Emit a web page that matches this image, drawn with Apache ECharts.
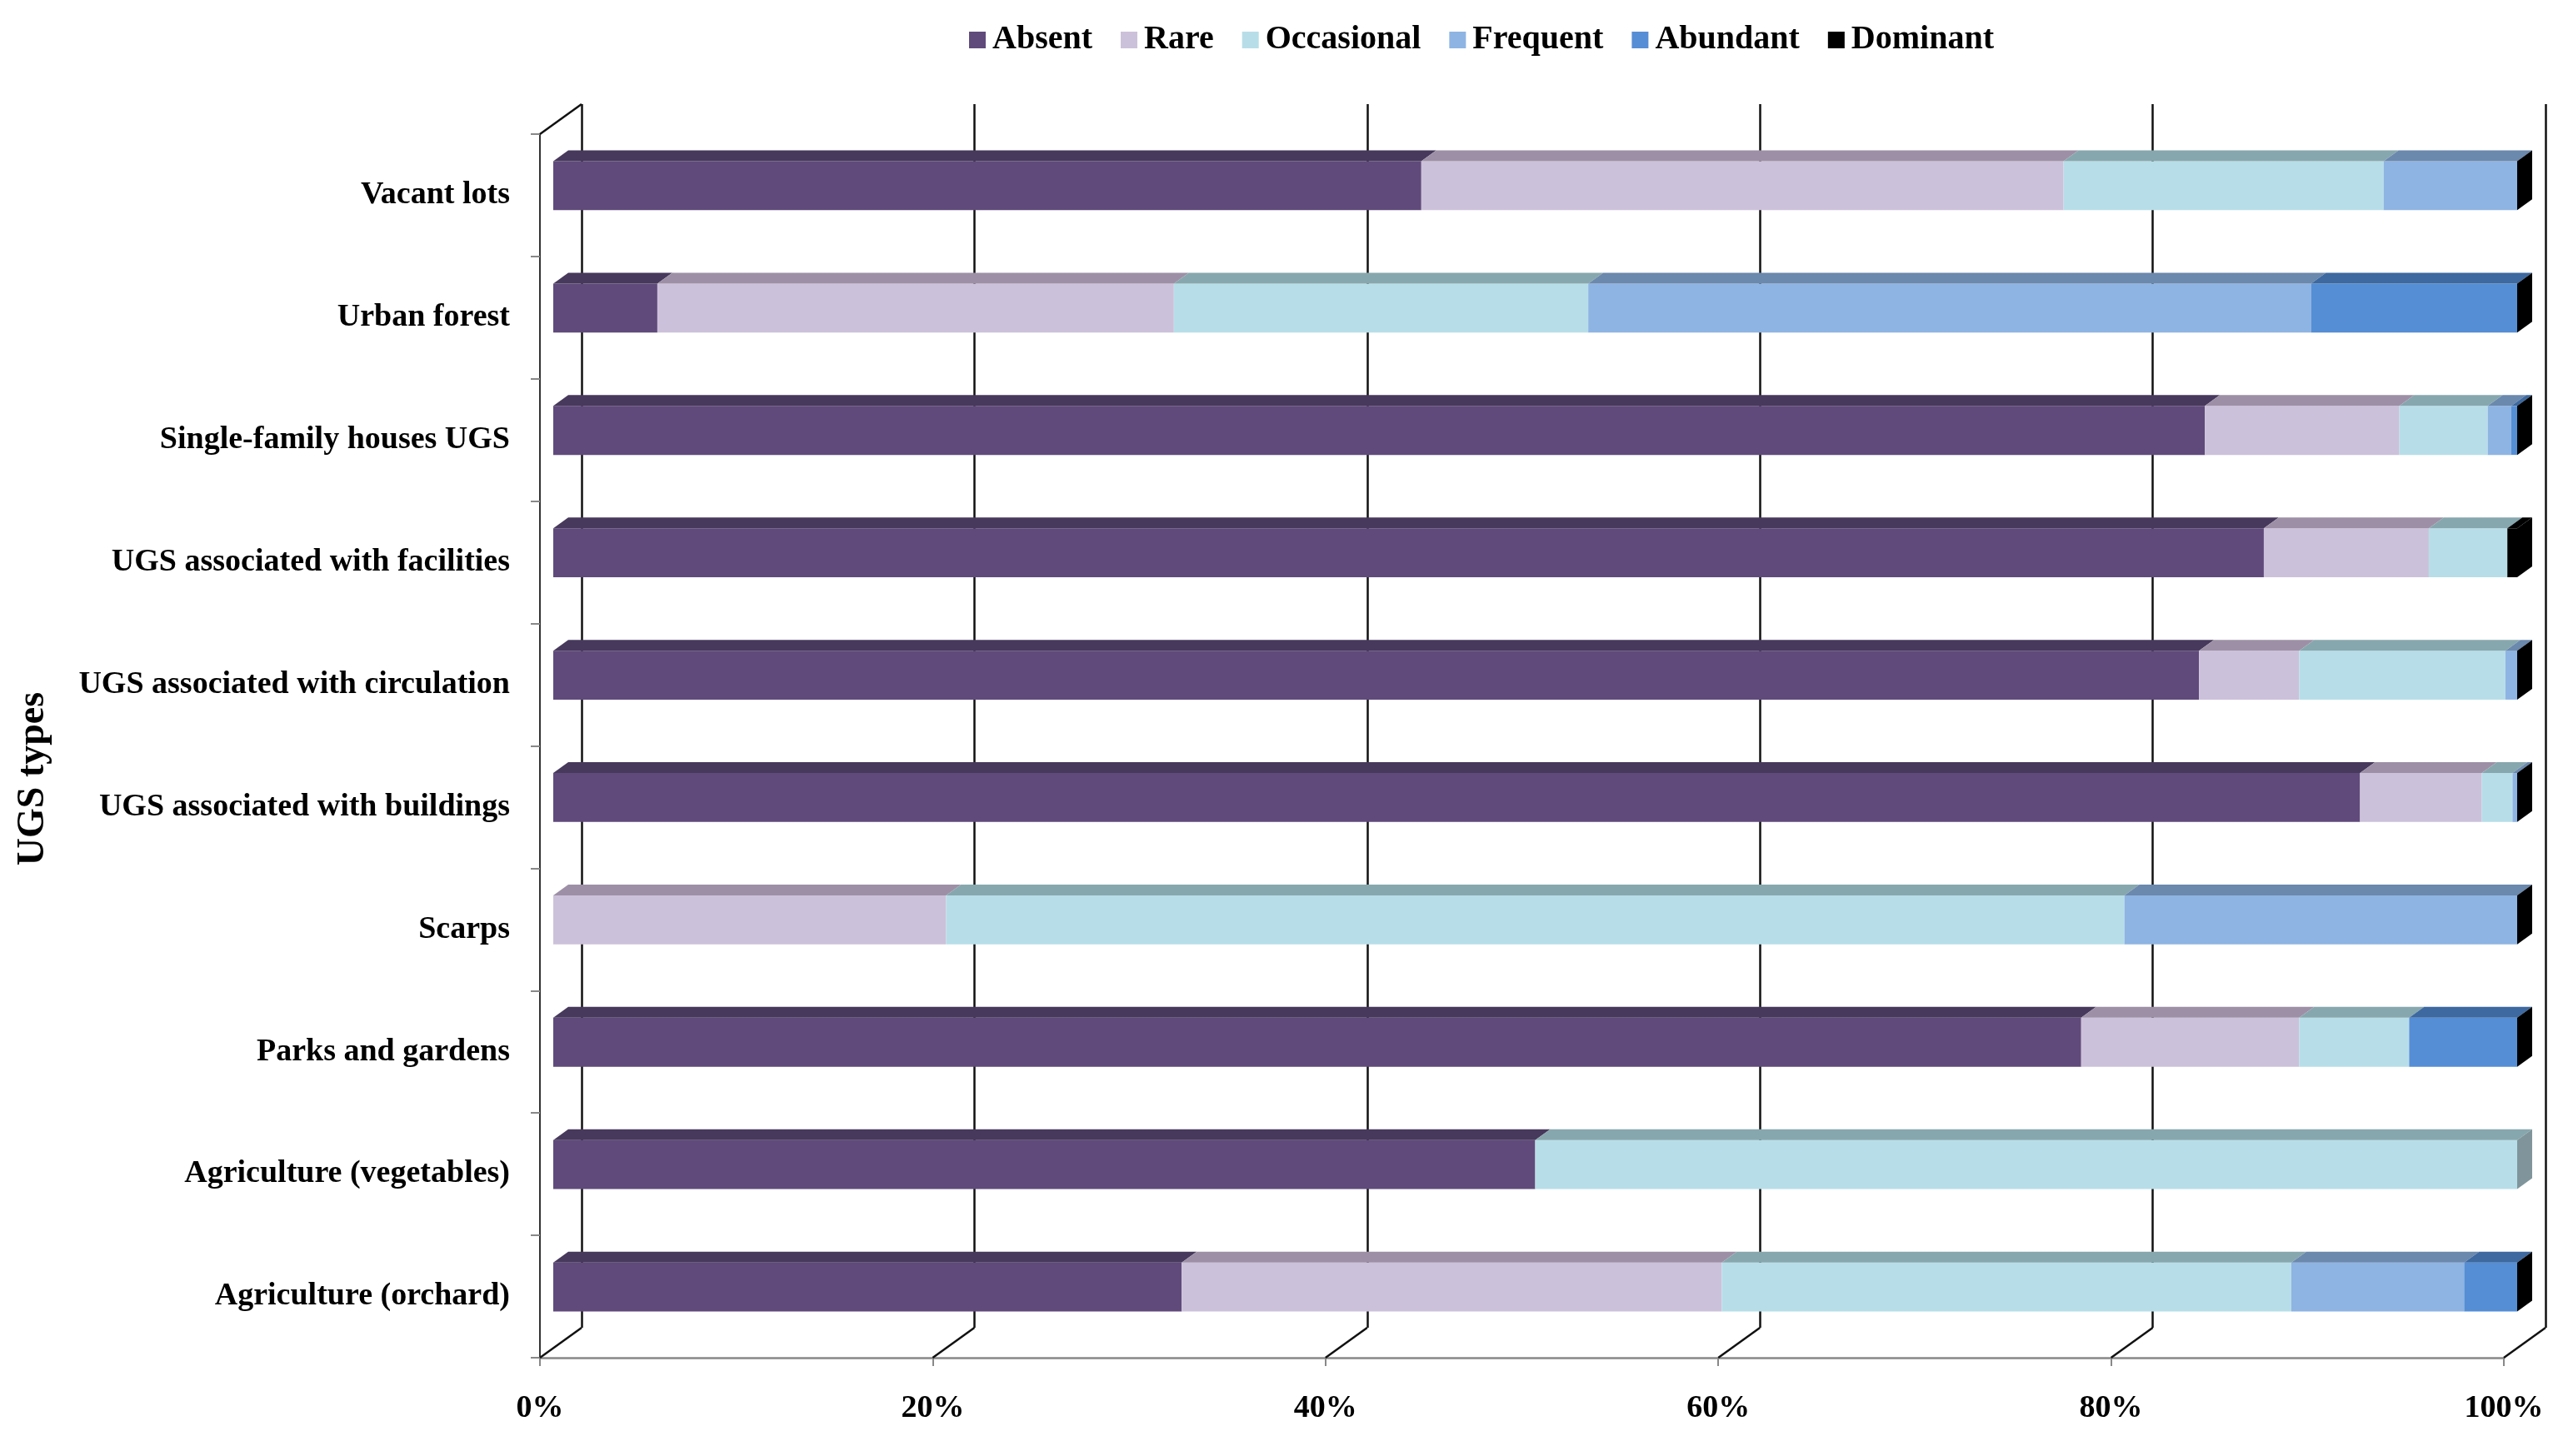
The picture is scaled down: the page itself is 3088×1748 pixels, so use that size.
<!DOCTYPE html>
<html>
<head>
<meta charset="utf-8">
<title>UGS types</title>
<script src="https://cdn.jsdelivr.net/npm/echarts@6.0.0/dist/echarts.min.js"></script>
<style>
    html, body { margin: 0; padding: 0; background: #fff; }
    #chart { width: 3088px; height: 1748px; }
</style>
</head>
<body>
<div id="chart"></div>
<script>
// ======================
// DATA
// ======================

const categories = [
    'Vacant lots',
    'Urban forest',
    'Single-family houses UGS',
    'UGS associated with facilities',
    'UGS associated with circulation',
    'UGS associated with buildings',
    'Scarps',
    'Parks and gardens',
    'Agriculture (vegetables)',
    'Agriculture (orchard)',
];

const levels = ['Absent', 'Rare', 'Occasional', 'Frequent', 'Abundant', 'Dominant'];

// % of each UGS type, null = level not present in the row
const absent     = [44.2, 5.3, 84.1, 87.1, 83.8, 92.0, 0, 77.8, 50.0, 32.0];
const rare       = [32.7, 26.3, 9.9, 8.4, 5.1, 6.2, 20.0, 11.1, 0, 27.5];
const occasional = [16.3, 21.1, 4.5, 4.0, 10.5, 1.56, 60.0, 5.6, 50.0, 29.0];
const frequent   = [6.8, 36.8, 1.2, 0, 0.6, 0.24, 20.0, 0, null, 8.8];
const abundant   = [0, 10.5, 0.3, 0, 0, 0, 0, 5.5, null, 2.7];
const dominant   = [0, 0, 0, 0.5, 0, 0, 0, 0, null, 0];

const tickValues = [0, 20, 40, 60, 80, 100];

// ======================
// STYLE
// ======================

const FONT = '"Liberation Serif", "Times New Roman", serif';
const frontColors = ['#604a7b', '#ccc1da', '#b7dee8', '#8eb4e3', '#558ed5', '#000000'];
const topColors   = ['#47395c', '#9d90a6', '#87a7ae', '#6b88ad', '#3d69a0', '#000000'];
const sideColors  = ['#3e3150', '#8a7e92', '#7f959b', '#5f7899', '#345c8c', '#000000'];

// pseudo 3D: floor depth and bar depth offsets (px)
const DEPTH_X = 50, DEPTH_Y = 36;
const BAR_OFF_X = 16, BAR_OFF_Y = 11.5;
const BAR_DX = 18, BAR_DY = 13;

const GRID_FRONT = { left: 648, right: 83, top: 161, bottom: 118 };
const GRID_BACK = {
    left: GRID_FRONT.left + DEPTH_X,
    right: GRID_FRONT.right - DEPTH_X,
    top: GRID_FRONT.top - DEPTH_Y,
    bottom: GRID_FRONT.bottom + DEPTH_Y,
};

// ======================
// BUILD SEGMENTS
// ======================

const levelValues = [absent, rare, occasional, frequent, abundant, dominant];

const lastLevel = categories.map((_, c) => {
    let last = 0;
    levelValues.forEach((arr, i) => { if (arr[c] !== null) last = i; });
    return last;
});

const segData = levelValues.map(() => []);
categories.forEach((_, c) => {
    let acc = 0;
    levelValues.forEach((arr, i) => {
        const v = arr[c];
        if (v === null) return;
        segData[i].push([acc, c, acc + v, lastLevel[c] === i ? 1 : 0]);
        acc += v;
    });
});

function renderSegment(levelIdx, params, api) {
    const start = api.value(0);
    const cat = api.value(1);
    const end = api.value(2);
    const isLast = api.value(3);

    const p0 = api.coord([start, cat]);
    const p1 = api.coord([end, cat]);
    const band = api.size([0, 1])[1];
    const h = band * 0.4;

    const x0 = p0[0] + BAR_OFF_X;
    const x1 = p1[0] + BAR_OFF_X;
    const yc = p0[1] - BAR_OFF_Y;
    const top = yc - h / 2;
    const bot = yc + h / 2;

    const children = [
        {
            type: 'rect',
            shape: { x: x0, y: top, width: Math.max(x1 - x0, 0), height: h },
            style: { fill: frontColors[levelIdx] },
        },
        {
            type: 'polygon',
            shape: { points: [[x0, top], [x1, top], [x1 + BAR_DX, top - BAR_DY], [x0 + BAR_DX, top - BAR_DY]] },
            style: { fill: topColors[levelIdx] },
        },
    ];
    if (isLast) {
        children.push({
            type: 'polygon',
            shape: { points: [[x1, top], [x1 + BAR_DX, top - BAR_DY], [x1 + BAR_DX, bot - BAR_DY], [x1, bot]] },
            style: { fill: sideColors[levelIdx] },
        });
    }
    return { type: 'group', children };
}

function renderFrame(params, api) {
    const v = api.value(0);
    const band = api.size([0, 1])[1];
    const x = api.coord([v, 0])[0];
    const yBottom = api.coord([v, categories.length - 1])[1] + band / 2;
    const lineStyle = { stroke: '#111111', lineWidth: 2.5 };

    const children = [{
        type: 'line',
        shape: { x1: x, y1: yBottom, x2: x + DEPTH_X, y2: yBottom - DEPTH_Y },
        style: lineStyle,
    }];
    if (v === 0) {
        const yTop = api.coord([v, 0])[1] - band / 2;
        children.push({
            type: 'line',
            shape: { x1: x, y1: yTop, x2: x + DEPTH_X, y2: yTop - DEPTH_Y },
            style: lineStyle,
        });
    }
    return { type: 'group', children };
}

// ======================
// OPTION
// ======================

const series = [
    {
        type: 'custom',
        name: 'frame',
        xAxisIndex: 0,
        yAxisIndex: 0,
        clip: false,
        silent: true,
        z: 1,
        data: tickValues.map(v => [v, 0]),
        renderItem: renderFrame,
    },
];

levels.forEach((name, i) => {
    series.push({
        type: 'custom',
        name,
        xAxisIndex: 0,
        yAxisIndex: 0,
        clip: false,
        silent: true,
        z: 3,
        itemStyle: { color: frontColors[i] },
        encode: { x: [0, 2], y: 1 },
        data: segData[i],
        renderItem: renderSegment.bind(null, i),
    });
});

const option = {
    backgroundColor: '#ffffff',
    animation: false,
    color: frontColors,
    legend: {
        data: levels,
        left: 1158,
        top: 23,
        icon: 'rect',
        itemWidth: 20,
        itemHeight: 20,
        itemGap: 34,
        textStyle: { fontFamily: FONT, fontSize: 40, fontWeight: 'bold', color: '#000', padding: [0, 0, 0, 3] },
    },
    grid: [
        { ...GRID_FRONT, containLabel: false },
        { ...GRID_BACK, containLabel: false },
    ],
    xAxis: [
        {
            gridIndex: 0,
            type: 'value',
            min: 0,
            max: 100,
            interval: 20,
            axisLine: { show: true, lineStyle: { color: '#888888', width: 2.5 } },
            axisTick: { show: true, length: 10, lineStyle: { color: '#888888', width: 2 } },
            axisLabel: {
                formatter: '{value}%',
                margin: 42,
                fontFamily: FONT,
                fontSize: 38,
                fontWeight: 'bold',
                color: '#000',
            },
            splitLine: { show: false },
        },
        {
            gridIndex: 1,
            type: 'value',
            min: 0,
            max: 100,
            interval: 20,
            axisLine: { show: false },
            axisTick: { show: false },
            axisLabel: { show: false },
            splitLine: { show: true, lineStyle: { color: '#111111', width: 2.5 } },
        },
    ],
    yAxis: [
        {
            gridIndex: 0,
            type: 'category',
            data: categories,
            inverse: true,
            axisLine: { show: true, lineStyle: { color: '#333333', width: 2 } },
            axisTick: { show: true, length: 11, lineStyle: { color: '#888888', width: 2 } },
            axisLabel: {
                margin: 36,
                padding: [8, 0, 0, 0],
                fontFamily: FONT,
                fontSize: 38,
                fontWeight: 'bold',
                color: '#000',
            },
            splitLine: { show: false },
        },
        {
            gridIndex: 1,
            type: 'value',
            show: false,
        },
    ],
    graphic: [
        {
            type: 'text',
            x: 40,
            y: 935,
            rotation: Math.PI / 2,
            style: {
                text: 'UGS types',
                x: 0,
                y: 0,
                align: 'center',
                verticalAlign: 'middle',
                font: 'bold 46px ' + FONT,
                fill: '#000',
            },
        },
    ],
    series,
};

const chart = echarts.init(document.getElementById('chart'), null, { renderer: 'canvas' });
chart.setOption(option);
</script>
</body>
</html>
